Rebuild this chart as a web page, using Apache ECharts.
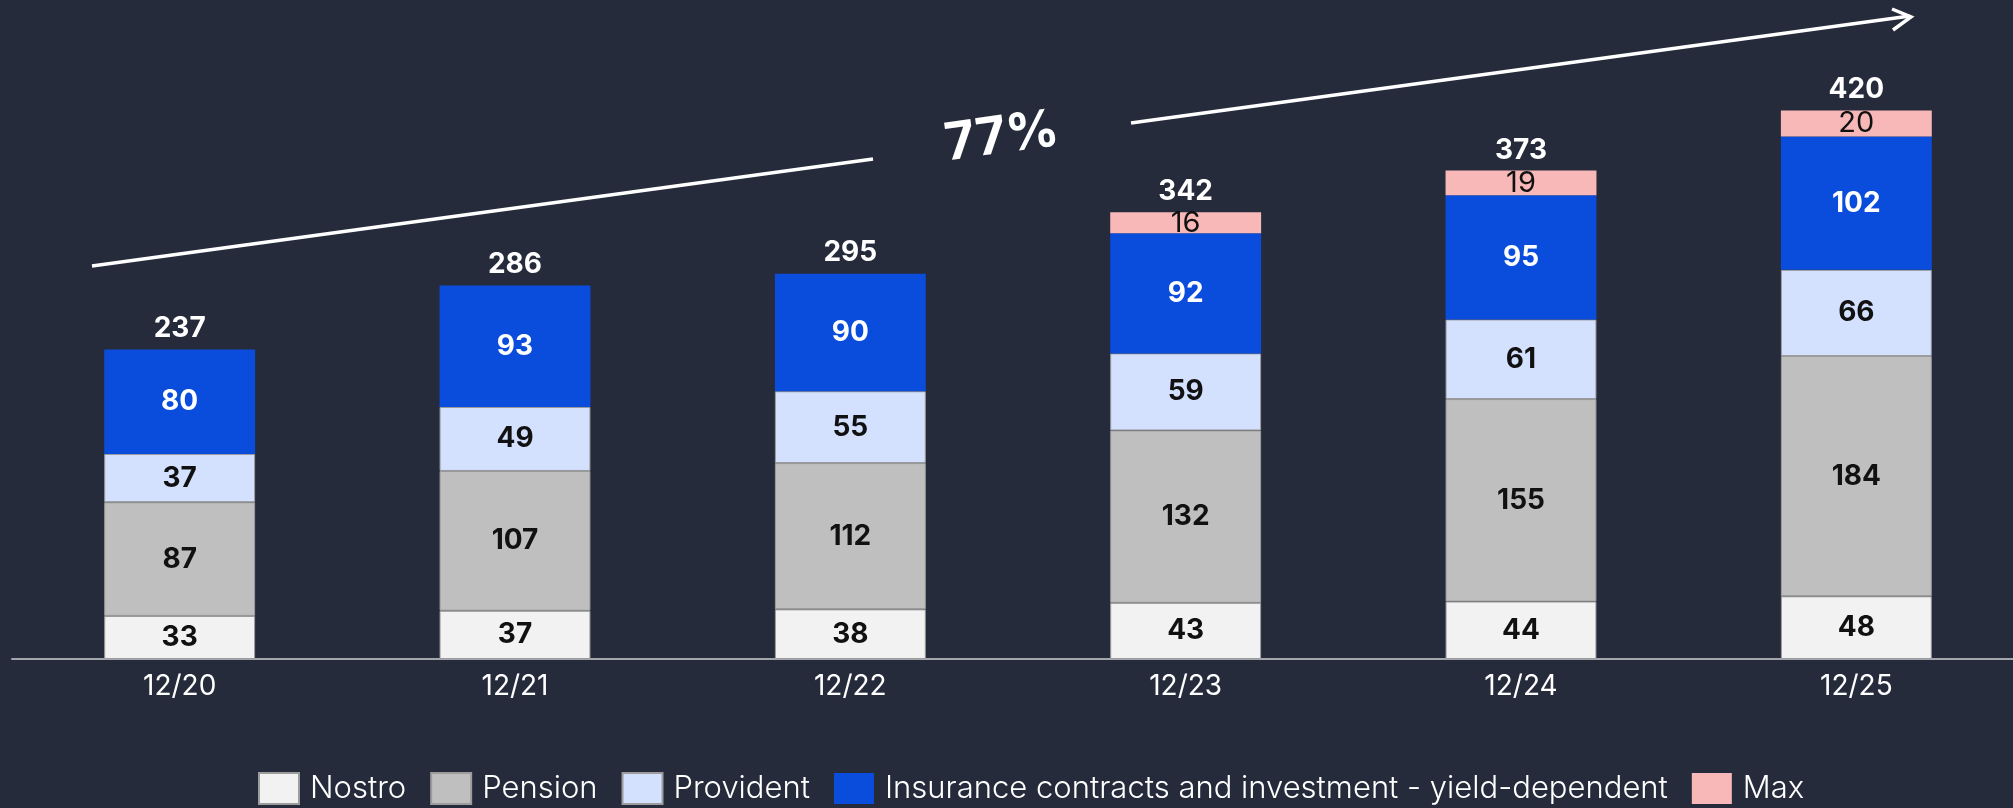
<!DOCTYPE html>
<html>
<head>
<meta charset="utf-8">
<script src="https://cdn.jsdelivr.net/npm/echarts@6/dist/echarts.min.js"></script>
<style>
  html, body { margin: 0; padding: 0; background: #262b3b; }
  #chart { width: 2013px; height: 808px; }
</style>
</head>
<body>
<div id="chart"></div>
<script>
// Data.
const categories = ['12/20', '12/21', '12/22', '12/23', '12/24', '12/25'];
const nostro = [33, 37, 38, 43, 44, 48];
const pension = [87, 107, 112, 132, 155, 184];
const provident = [37, 49, 55, 59, 61, 66];
const insurance = [80, 93, 90, 92, 95, 102];
const maxFund = [null, null, null, 16, 19, 20];
const totals = [237, 286, 295, 342, 373, 420];
const growthLabel = '77%';

const FONT = 'Inter, "Noto Sans", sans-serif';

const chart = echarts.init(document.getElementById('chart'));

// Common look for one stacked segment.
function segment(name, data, color, labelColor, weight, size, border) {
  return {
    name: name,
    type: 'bar',
    stack: 'total',
    barWidth: '45%',
    data: data,
    itemStyle: {
      color: color,
      borderColor: border ? '#9c9c9c' : color,
      borderWidth: border ? 1 : 0
    },
    label: {
      show: true,
      position: 'inside',
      color: labelColor,
      fontFamily: FONT,
      fontSize: size,
      fontWeight: weight
    },
    emphasis: { disabled: true }
  };
}

const option = {
  backgroundColor: '#262b3b',
  animation: false,
  grid: { left: 12, top: 6, width: 2012, bottom: 149, outerBoundsMode: 'none' },
  legend: {
    left: 253,
    top: 767,
    itemWidth: 40,
    itemHeight: 31,
    itemGap: 24,
    icon: 'rect',
    data: ['Nostro', 'Pension', 'Provident',
      'Insurance contracts and investment - yield-dependent', 'Max'],
    textStyle: {
      color: '#ffffff',
      fontFamily: FONT,
      fontSize: 31,
      fontWeight: 300,
      padding: [0, 0, 0, 6]
    }
  },
  xAxis: {
    type: 'category',
    data: categories,
    axisLine: { lineStyle: { color: '#a3a6ad', width: 2 } },
    axisTick: { show: false },
    axisLabel: {
      color: '#ffffff',
      fontFamily: FONT,
      fontSize: 28,
      margin: 14
    }
  },
  yAxis: {
    type: 'value',
    min: 0,
    max: 500,
    show: false,
    splitLine: { show: false }
  },
  series: [
    segment('Nostro', nostro, '#f2f2f2', '#111111', 'bold', 28, true),
    segment('Pension', pension, '#bfbfbf', '#111111', 'bold', 28, true),
    segment('Provident', provident, '#d3e1ff', '#111111', 'bold', 28, true),
    segment('Insurance contracts and investment - yield-dependent', insurance,
      '#0a4ddc', '#ffffff', 'bold', 28, false),
    segment('Max', maxFund, '#f8b8b8', '#111111', 'normal', 29, false),
    {
      // Totals printed above each stack.
      name: 'total',
      type: 'scatter',
      data: totals,
      symbolSize: 0,
      itemStyle: { opacity: 1 },
      label: {
        show: true,
        position: 'top',
        distance: 7,
        color: '#ffffff',
        fontFamily: FONT,
        fontSize: 28,
        fontWeight: 'bold'
      },
      emphasis: { disabled: true }
    }
  ],
  graphic: [
    {
      type: 'line',
      shape: { x1: 92, y1: 266, x2: 873, y2: 159 },
      style: { stroke: '#ffffff', lineWidth: 3.5 }
    },
    {
      type: 'line',
      shape: { x1: 1131, y1: 123, x2: 1910, y2: 16 },
      style: { stroke: '#ffffff', lineWidth: 3.5 }
    },
    {
      type: 'polyline',
      shape: { points: [[1892, 9], [1911, 17], [1893, 30]] },
      style: { stroke: '#ffffff', lineWidth: 3.5, fill: null }
    },
    {
      type: 'text',
      x: 1002,
      y: 137,
      rotation: 0.14,
      style: {
        text: growthLabel,
        fill: '#ffffff',
        font: 'bold 52px ' + FONT,
        align: 'center',
        verticalAlign: 'middle'
      }
    }
  ]
};

chart.setOption(option);
window.addEventListener('resize', () => chart.resize());
</script>
</body>
</html>
